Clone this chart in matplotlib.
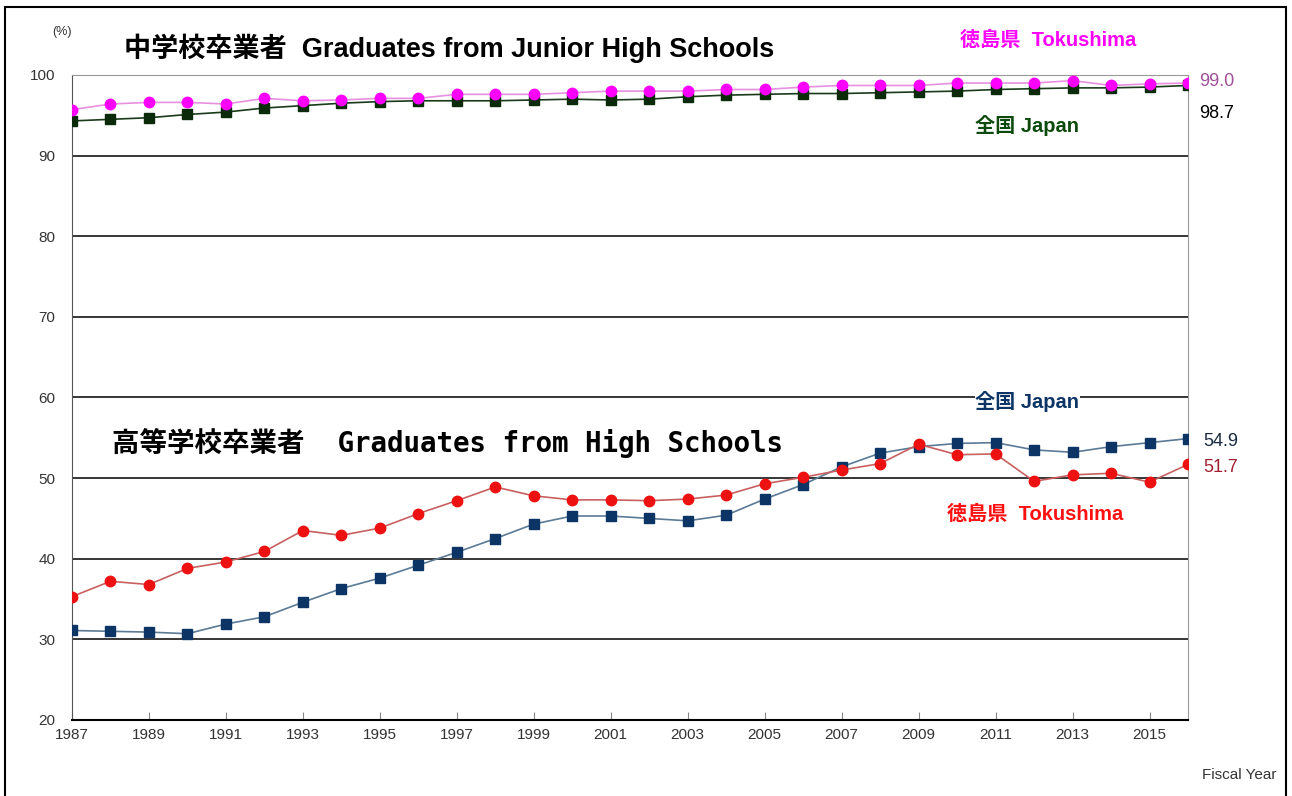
import matplotlib.pyplot as plt
from matplotlib.patches import Rectangle

# 進学率 (%) by fiscal year
years = list(range(1987, 2017))

# 中学校卒業者 (junior high graduates)
jh_tokushima = [95.7, 96.4, 96.6, 96.6, 96.4, 97.1, 96.8, 96.9, 97.1, 97.1,
                97.6, 97.6, 97.6, 97.8, 98.0, 98.0, 98.0, 98.2, 98.2, 98.5,
                98.7, 98.7, 98.7, 99.0, 99.0, 99.0, 99.3, 98.7, 98.9, 99.0]
jh_japan = [94.3, 94.5, 94.7, 95.1, 95.4, 95.9, 96.2, 96.5, 96.7, 96.8,
            96.8, 96.8, 96.9, 97.0, 96.9, 97.0, 97.3, 97.5, 97.6, 97.7,
            97.7, 97.8, 97.9, 98.0, 98.2, 98.3, 98.4, 98.4, 98.5, 98.7]

# 高等学校卒業者 (high school graduates)
hs_tokushima = [35.3, 37.2, 36.8, 38.8, 39.6, 40.9, 43.5, 42.9, 43.8, 45.6,
                47.2, 48.9, 47.8, 47.3, 47.3, 47.2, 47.4, 47.9, 49.3, 50.1,
                51.0, 51.8, 54.2, 52.9, 53.0, 49.6, 50.4, 50.6, 49.5, 51.7]
hs_japan = [31.1, 31.0, 30.9, 30.7, 31.9, 32.8, 34.6, 36.3, 37.6, 39.2,
            40.8, 42.5, 44.3, 45.3, 45.3, 45.0, 44.7, 45.4, 47.4, 49.2,
            51.4, 53.1, 53.9, 54.3, 54.4, 53.5, 53.2, 53.9, 54.4, 54.9]

xtick_years = list(range(1987, 2016, 2))
yticks = list(range(20, 101, 10))

jp_sans = ['Liberation Sans', 'Noto Sans CJK JP']
jp_mono = ['DejaVu Sans Mono', 'Noto Sans CJK JP']
narrow = ['Liberation Sans Narrow', 'Liberation Sans', 'DejaVu Sans']

fig = plt.figure(figsize=(12.92, 7.96), dpi=100)
ax = fig.add_axes([0.0557, 0.0955, 0.8638, 0.8103])

# outer frame of the picture
fig.patches.append(Rectangle((0.004, -0.05), 0.991, 1.041, transform=fig.transFigure,
                             fill=False, edgecolor='black', linewidth=1.5))

ax.plot(years, jh_japan, color='#1a3a1a', linewidth=1.2, marker='s',
        markersize=7, markerfacecolor='#0a2a0a', markeredgecolor='#0a2a0a', zorder=3)
ax.plot(years, jh_tokushima, color='#e890e0', linewidth=1.2, marker='o',
        markersize=7.5, markerfacecolor='#ff00ff', markeredgecolor='#ff00ff', zorder=4)
ax.plot(years, hs_japan, color='#5a7a96', linewidth=1.2, marker='s',
        markersize=7, markerfacecolor='#0c3566', markeredgecolor='#0c3566', zorder=3)
ax.plot(years, hs_tokushima, color='#c86060', linewidth=1.2, marker='o',
        markersize=7.5, markerfacecolor='#ee1111', markeredgecolor='#ee1111', zorder=4)

ax.set_xlim(1987, 2016)
ax.set_ylim(20, 100)
ax.set_yticks(yticks)
ax.set_xticks(xtick_years)
ax.set_xticklabels([str(y) for y in xtick_years], family=narrow, fontsize=11, color='#333333')
ax.set_yticklabels([str(v) for v in yticks], family=narrow, fontsize=11, color='#333333')
ax.tick_params(axis='x', direction='in', length=6, width=0.8, color='#888888', pad=6)
ax.tick_params(axis='y', length=0, pad=12)
ax.grid(axis='y', color='black', linewidth=1.1)
ax.spines['left'].set_color('#555555')
ax.spines['bottom'].set_color('black')
ax.spines['bottom'].set_linewidth(1.5)
ax.spines['right'].set_color('#999999')
ax.spines['top'].set_color('#999999')

# titles
fig.text(0.096, 0.939, '中学校卒業者  Graduates from Junior High Schools', family=jp_sans,
         fontsize=19.5, fontweight='bold', va='center', ha='left')
fig.text(0.087, 0.443, '高等学校卒業者  Graduates from High Schools', family=jp_mono,
         fontsize=19.8, fontweight='bold', va='center', ha='left')

fig.text(0.048, 0.96, '(%)', family=narrow, fontsize=9, color='#333333', ha='center', va='center')
fig.text(0.959, 0.027, 'Fiscal Year', family=narrow, fontsize=11, color='#333333',
         ha='center', va='center')

# series labels
fig.text(0.743, 0.949, '徳島県  Tokushima', family=jp_sans, fontsize=14.5, fontweight='bold',
         color='#ff00ff', va='center', ha='left')
fig.text(0.755, 0.842, '全国 Japan', family=jp_sans, fontsize=14.5, fontweight='bold',
         color='#0d4a0d', va='center', ha='left')
fig.text(0.755, 0.496, '全国 Japan', family=jp_sans, fontsize=14.5, fontweight='bold',
         color='#0c3566', va='center', ha='left',
         bbox=dict(facecolor='white', edgecolor='none', pad=0.5))
fig.text(0.733, 0.354, '徳島県  Tokushima', family=jp_sans, fontsize=14.5, fontweight='bold',
         color='#ff1010', va='center', ha='left')

# last values
ax.annotate('99.0', (years[-1], jh_tokushima[-1]), xytext=(8, 1), textcoords='offset points',
            family=narrow, fontsize=13, color='#a0509a', va='center')
ax.annotate('98.7', (years[-1], jh_japan[-1]), xytext=(8, -20), textcoords='offset points',
            family=narrow, fontsize=13, color='black', va='center')
ax.annotate('54.9', (years[-1], hs_japan[-1]), xytext=(11, -2), textcoords='offset points',
            family=narrow, fontsize=13, color='#1a2a40', va='center')
ax.annotate('51.7', (years[-1], hs_tokushima[-1]), xytext=(11, -2), textcoords='offset points',
            family=narrow, fontsize=13, color='#a02030', va='center')

fig.savefig('out.png', dpi=100)
